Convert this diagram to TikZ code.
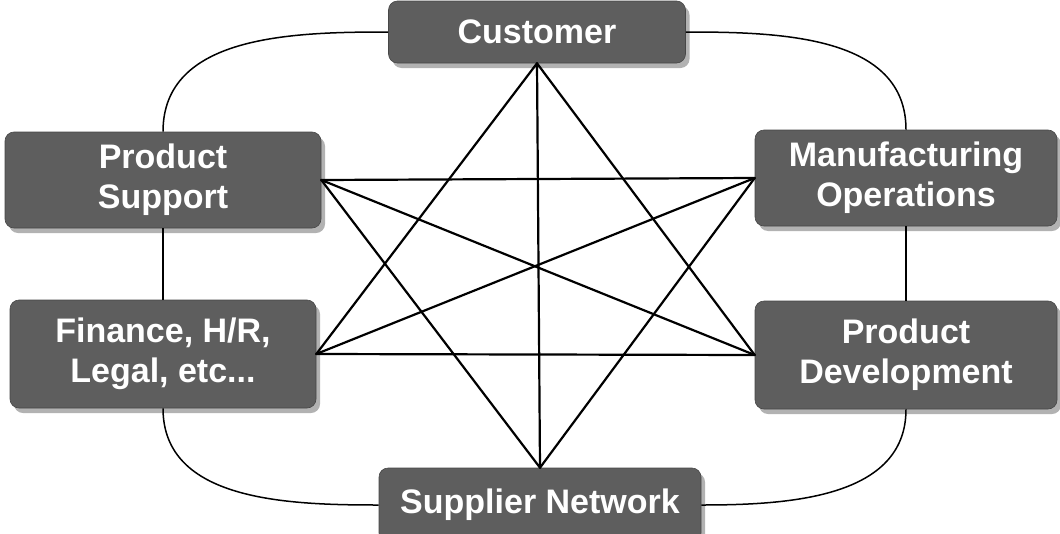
\documentclass[tikz,border=0pt]{standalone}
\usepackage{fontspec}
\setmainfont{Liberation Sans}
\usetikzlibrary{shadows}

\begin{document}
\begin{tikzpicture}[x=1pt, y=-1pt,
    box/.style = {rounded corners=9pt, fill=black!63, draw=black!72, line width=0.6pt,
                  text=white, font=\fontsize{34}{40}\selectfont\bfseries, align=center, inner sep=0pt,
                  drop shadow={shadow xshift=4pt, shadow yshift=-5pt, fill=black!30, opacity=1}},
    star/.style = {line width=2.2pt, line cap=round},
    ring/.style = {line width=1.5pt}]
    \useasboundingbox (0,0) rectangle (1060,533);
				      \node (cust)[box, minimum width=297pt, minimum height=62pt] at (537,32) {Customer};
				      \node (ps)[box, minimum width=316pt, minimum height=96pt] at (163,180) {Product\\Support};
				      \node (mo)[box, minimum width=302pt, minimum height=96pt] at (906,178) {Manufacturing\\Operations};
				      \node (fin)[box, minimum width=306pt, minimum height=108pt] at (163,354) {Finance, H/R,\\Legal, etc...};
				      \node (pd)[box, minimum width=302pt, minimum height=108pt] at (906,355) {Product\\Development};
				      \node (sup)[box, minimum width=322pt, minimum height=74pt] at (540,505) {Supplier Network};
				      % outer ring
				      \draw[ring] (cust.west) to[out=180, in=90] (ps.north);
				      \draw[ring] (cust.east) to[out=0, in=90] (mo.north);
				      \draw[ring] (ps.south) -- (fin.north);
				      \draw[ring] (mo.south) -- (pd.north);
				      \draw[ring] (fin.south) to[out=-90, in=180] (sup.west);
				      \draw[ring] (pd.south) to[out=-90, in=0] (sup.east);
				      % the star inside
				      \draw[star] (cust.south)--(sup.north);
				      \draw[star] (cust.south)--(fin.east);
				      \draw[star] (cust.south)--(pd.west);
				      \draw[star] (sup.north)--(ps.east);
				      \draw[star] (sup.north)--(mo.west);
				      \draw[star] (ps.east)--(mo.west);
				      \draw[star] (fin.east)--(pd.west);
				      \draw[star] (ps.east)--(pd.west);
				      \draw[star] (fin.east)--(mo.west);
\end{tikzpicture}
\end{document}
